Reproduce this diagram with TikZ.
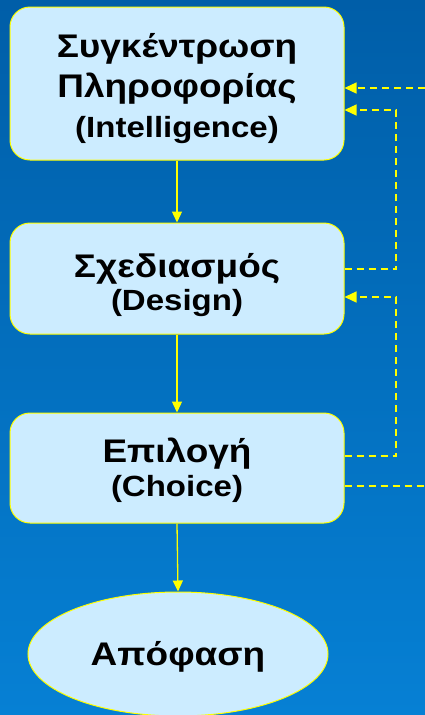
\documentclass[tikz,border=0pt]{standalone}
\usepackage{fontspec}
\newfontfamily\labelfont{Liberation Sans Bold}[FakeStretch=1.13]
\usetikzlibrary{shapes.geometric,arrows.meta}
\definecolor{bgtop}{RGB}{0,94,168}
\definecolor{bgbot}{RGB}{6,128,212}
\definecolor{boxfill}{RGB}{204,236,255}
\definecolor{linkyellow}{RGB}{255,255,0}
\tikzset{
  stagebox/.style={draw=linkyellow, line width=1pt, fill=boxfill, rounded corners=20pt,
    minimum width=334pt, align=center, text=black, inner sep=0pt},
  outcome/.style={ellipse, draw=linkyellow, line width=1pt, fill=boxfill,
    minimum width=300pt, minimum height=124pt, inner sep=0pt,
    font=\labelfont\fontsize{32.7}{36}\selectfont},
  flow/.style={draw=linkyellow, line width=1.3pt, -{Triangle[length=11pt,width=10pt]}},
  feedback/.style={draw=linkyellow, line width=1.3pt, dash pattern=on 7pt off 5pt},
  feedtip/.style={feedback, -{Triangle[length=12pt,width=11pt]}},
}
% line struts: top of the first line, bottom of the last line
\newcommand{\topstrut}[1]{\rule{0pt}{#1}}
\newcommand{\botstrut}{\rule[-8pt]{0pt}{8pt}}
\newcommand{\la}[1]{{\fontsize{29.2}{30}\selectfont #1}}
\begin{document}
\begin{tikzpicture}[x=1pt,y=-1pt]
  \useasboundingbox (0,0) rectangle (425,715);
  \shade[top color=bgtop, bottom color=bgbot] (0,0) rectangle (425,715);
  \begin{scope}
    \clip (0,0) rectangle (425,715);
    \node[stagebox, minimum height=153pt, font=\labelfont\fontsize{32.7}{40}\selectfont] (b1) at (177,83.5)
      {\topstrut{35pt}Συγκέντρωση\\Πληροφορίας\\\la{(Intelligence)}\botstrut};
    \node[stagebox, minimum height=111pt, font=\labelfont\fontsize{32.7}{33}\selectfont] (b2) at (177,278.5)
      {\topstrut{38pt}Σχεδιασμός\\\la{(Design)}\botstrut};
    \node[stagebox, minimum height=110pt, font=\labelfont\fontsize{32.7}{34}\selectfont] (b3) at (177,468)
      {\topstrut{30pt}Επιλογή\\\la{(Choice)}\botstrut};
    \node[outcome] (d) at (178,654) {\topstrut{30pt}Απόφαση\botstrut};
  \end{scope}

  % forward flow
  \draw[flow] (b1.south) -- (b2.north);
  \draw[flow] (b2.south) -- (b3.north);
  \draw[flow] (b3.south) -- (d.north);

  % feedback loops
  \coordinate (inA) at (425,88);
  \coordinate (outB) at (425,486);
  \draw[feedtip] (inA) -- (b1.east |- 0,88);
  \draw[feedtip] (b2.east |- 0,269) -- (396,269) -- (396,110) -- (b1.east |- 0,110);
  \draw[feedtip] (b3.east |- 0,456) -- (396,456) -- (396,297) -- (b2.east |- 0,297);
  \draw[feedback] (b3.east |- 0,486) -- (outB);
\end{tikzpicture}
\end{document}
